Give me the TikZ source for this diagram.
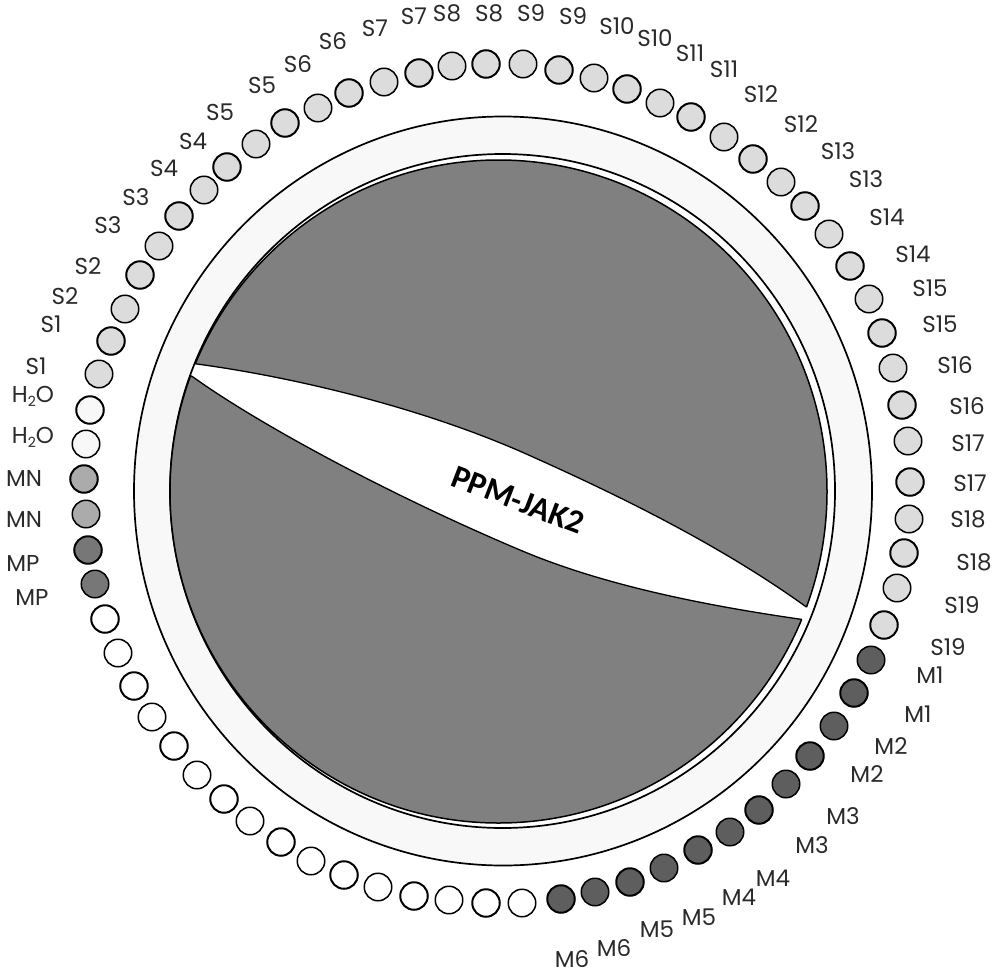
\documentclass[tikz,border=0pt]{standalone}
\usepackage{fontspec}
\setmainfont{Poppins}
\newfontfamily\rotorfont{Carlito}
\definecolor{ringgray}{HTML}{F8F8F8}
\definecolor{rotorgray}{HTML}{808080}
\definecolor{samplegray}{HTML}{DCDCDC}
\definecolor{mngray}{HTML}{ABABAB}
\definecolor{mpgray}{HTML}{777777}
\definecolor{stdgray}{HTML}{5E5E5E}
\definecolor{labelgray}{HTML}{2A2A2A}
\tikzset{
    well/.style={circle, draw=black, inner sep=0pt, minimum size=27.5pt},
    sample/.style={well, fill=samplegray},
    water/.style={well, fill=ringgray},
    mneg/.style={well, fill=mngray},
    mpos/.style={well, fill=mpgray},
    standard/.style={well, fill=stdgray},
    empty/.style={well, fill=white},
    welllabel/.style={text=labelgray, inner sep=0pt, font=\fontsize{23}{25}\selectfont}
}
\newcommand{\upperedge}{(190,363) -- (197,364) .. controls (300,378) and (430,410) .. (533,457) .. controls (620,496) and (720,545) .. (805,606) -- (812,611)}
\newcommand{\loweredge}{(186,373) -- (193,377) .. controls (260,425) and (390,495) .. (520,550) .. controls (600,584) and (700,605) .. (806,620) -- (812,621)}
\newcommand{\twoH}{H\raisebox{-4pt}{\fontsize{14}{14}\selectfont 2}O}
\begin{document}
\begin{tikzpicture}[x=1pt, y=-1pt]
    \useasboundingbox (0,0) rectangle (995,974);
    % rotor rings
    \draw[line width=1.7pt, fill=ringgray] (503,491) ellipse [x radius=369, y radius=374.5];
    \draw[line width=1.7pt, fill=white] (502.5,491) ellipse [x radius=332.5, y radius=337];
    % upper and lower rotor parts
    \begin{scope}
        \clip \upperedge -- (1000,611) -- (1000,0) -- (0,0) -- (0,363) -- cycle;
        \draw[line width=1.5pt, fill=rotorgray] (498.5,491.5) ellipse [x radius=328.5, y radius=331.5];
    \end{scope}
    \begin{scope}
        \clip \loweredge -- (1000,621) -- (1000,974) -- (0,974) -- (0,373) -- cycle;
        \draw[line width=1.5pt, fill=rotorgray] (498.5,491.5) ellipse [x radius=328.5, y radius=331.5];
    \end{scope}
    \begin{scope}
        \clip (498.5,491.5) ellipse [x radius=328.5, y radius=331.5];
        \draw[line width=1.3pt] \upperedge;
        \draw[line width=1.3pt] \loweredge;
    \end{scope}
    \node[rotate=-21, font=\rotorfont\bfseries\fontsize{33}{35}\selectfont] (rotor) at (518,500) {PPM-JAK2};
    % wells, clockwise from the water positions
    \foreach \cx/\cy/\kind [count=\index] in {
        90/410/water, 86/444/water, 84/479/mneg, 86/514/mneg, 88/550/mpos, 95/584/mpos,
        105/619/empty, 118/653/empty, 134/686/empty, 152/717/empty, 174/746/empty, 197/775/empty,
        224/799/empty, 250/821/empty, 281/842/empty, 311/861/empty, 344/875/empty, 378/887/empty,
        414/896/empty, 449/900/empty, 486/903/empty, 522/903/empty,
        561/899/standard, 595/892/standard, 630/882/standard, 664/868/standard, 698/850/standard, 730/832/standard,
        759/810/standard, 786/784/standard, 810/756/standard, 834/726/standard, 854/693/standard, 871/660/standard,
        884/625/sample, 897/588/sample, 904/553/sample, 909/519/sample, 910/482/sample, 908/441/sample,
        902/405/sample, 893/368/sample, 882/333/sample, 869/299/sample, 850/266/sample, 829/234/sample,
        805/206/sample, 781/182/sample, 753/159/sample, 724/137/sample, 691/117/sample, 660/103/sample,
        627/89/sample, 594/78/sample, 559/70/sample, 523/64/sample, 486/64/sample, 452/66/sample,
        419/73/sample, 384/82/sample, 349/93/sample, 318/108/sample, 285/123/sample, 256/144/sample,
        227/167/sample, 204/190/sample, 179/216/sample, 159/246/sample, 140/275/sample, 125/309/sample,
        111/341/sample, 99/374/sample} {
        \ifodd\index \def\rim{2pt}\else \def\rim{1.5pt}\fi
        \node[\kind, line width=\rim] (well-\index) at (\cx,\cy) {};
    }
    % labels
    \foreach \lx/\ly/\txt [count=\index] in {
        33/396/\twoH, 33/437/\twoH,
        24/478/MN, 24/519/MN, 23/563/MP, 32/597/MP,
        572/959/M6, 614/948/M6, 657/929/M5, 699/917/M5, 739/897/M4, 773/878/M4,
        812/845/M3, 843/816/M3, 867/774/M2, 891/746/M2, 918/714/M1, 930/675/M1,
        948/647/S19, 962/605/S19, 974/562/S18, 968/519/S18, 970/483/S17, 968/443/S17,
        967/406/S16, 955/365/S16, 940/324/S15, 930/288/S15, 913/254/S14, 887/217/S14,
        866/179/S13, 838/151/S13, 801/124/S12, 761/94/S12, 724/69/S11, 690/53/S11,
        655/38/S10, 617/26/S10, 573/16/S9, 531/13/S9, 489/13/S8, 447/13/S8,
        414/16/S7, 375/28/S7, 333/41/S6, 298/64/S6, 262/85/S5, 220/112/S5,
        193/141/S4, 164/168/S4, 136/197/S3, 108/225/S3, 88/266/S2, 65/296/S2,
        51/324/S1, 36/366/S1} {
        \node[welllabel] (label-\index) at (\lx,\ly) {\txt};
    }
\end{tikzpicture}
\end{document}
